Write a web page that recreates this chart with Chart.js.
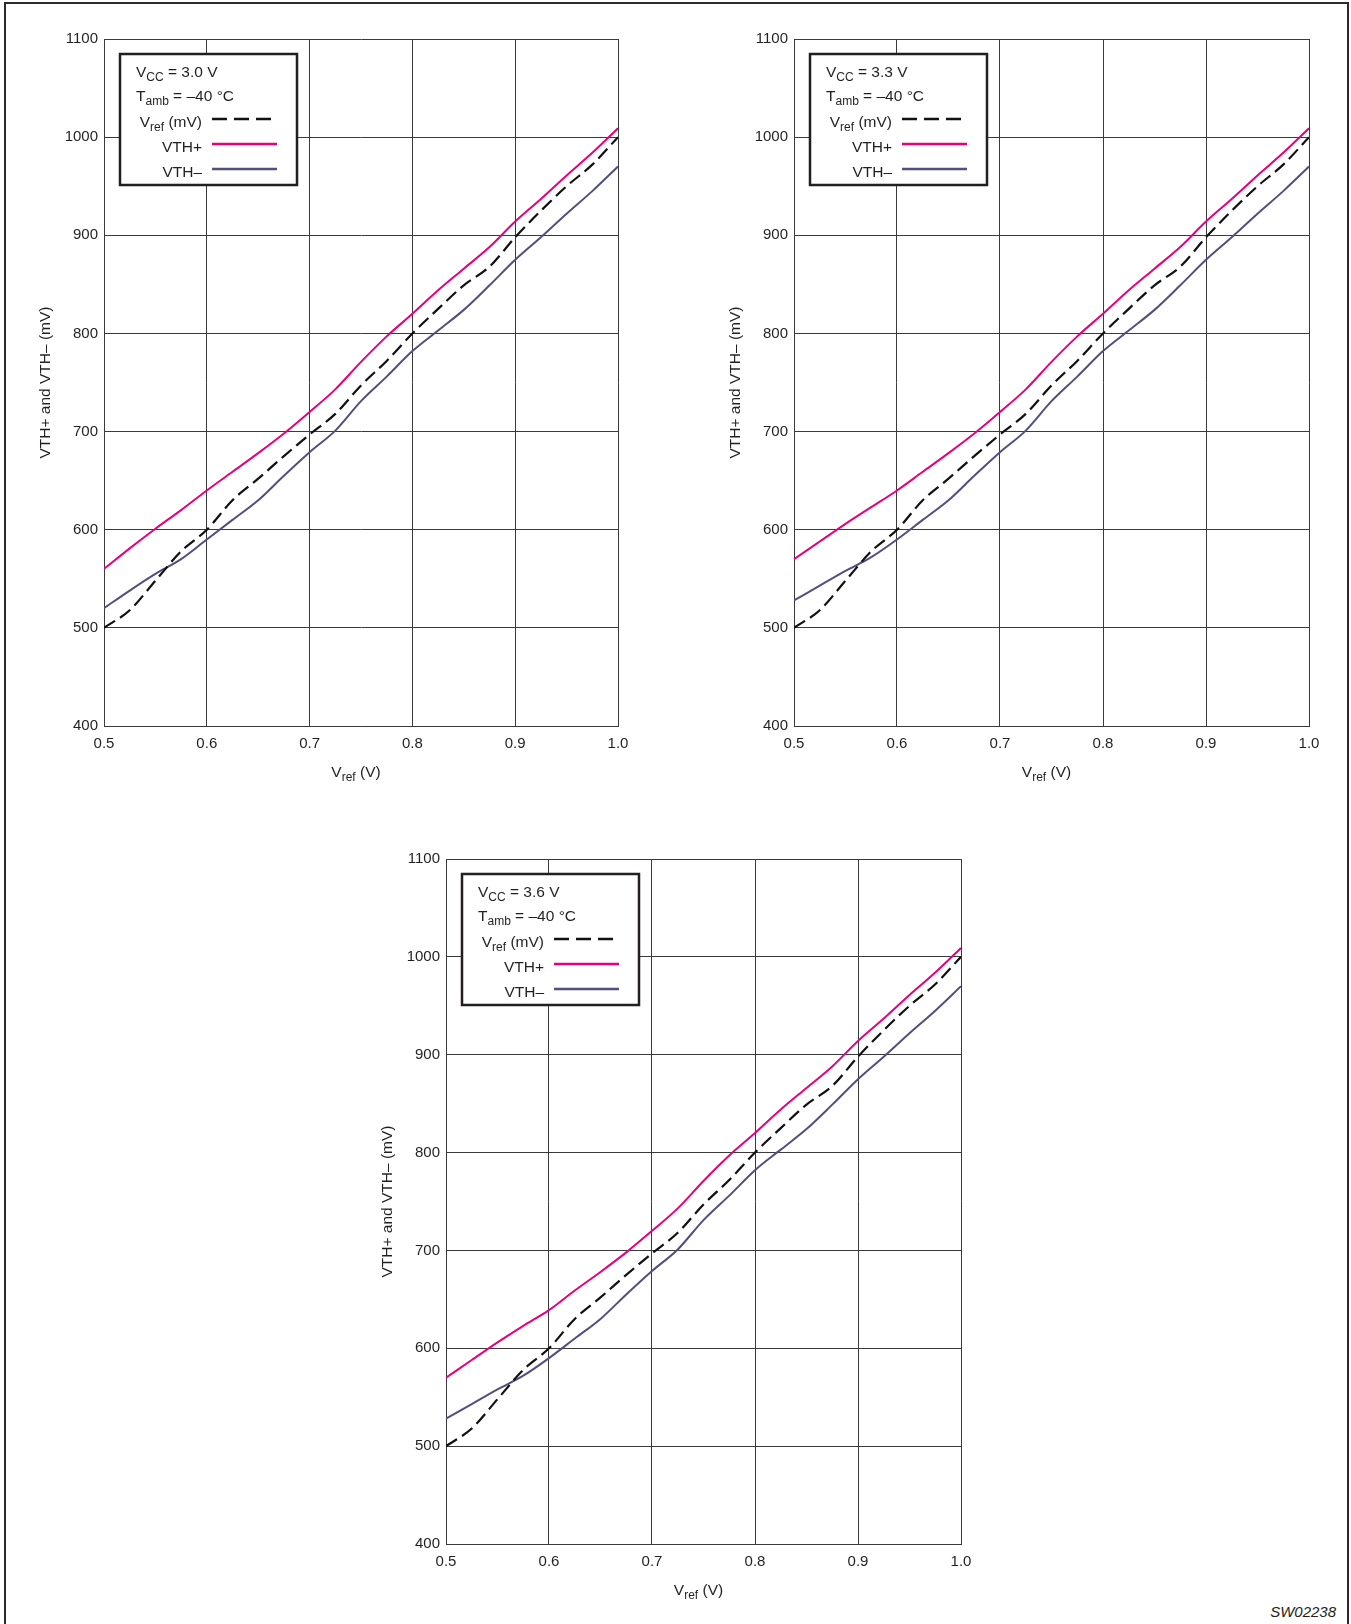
<!DOCTYPE html>
<html>
<head>
<meta charset="utf-8">
<title>VTH+ and VTH– vs Vref</title>
<script src="https://cdn.jsdelivr.net/npm/chart.js@4.4.1/dist/chart.umd.min.js"></script>
<style>
  html, body { margin: 0; padding: 0; background: #fff; }
  body { width: 1351px; height: 1624px; position: relative; overflow: hidden; font-family: 'Liberation Sans', Arial, sans-serif; }
  .frame { position: absolute; left: 4px; top: 2px; width: 1341px; height: 1700px; border: 2px solid #2a2a2a; }
  canvas { position: absolute; }
  .code { position: absolute; right: 15px; top: 1604px; font-style: italic; font-size: 15px; line-height: 1; color: #231f20; }
</style>
</head>
<body>
<div class="frame"></div>
<canvas id="c1" width="624" height="796" style="left:14px;top:0px"></canvas>
<canvas id="c2" width="625" height="796" style="left:704px;top:0px"></canvas>
<canvas id="c3" width="625" height="794" style="left:356px;top:820px"></canvas>
<div class="code">SW02238</div>
<script>
// x values (Vref in V) shared by every curve
const vrefV = [0.5, 0.525, 0.55, 0.575, 0.6, 0.625, 0.65, 0.675, 0.7, 0.725, 0.75,
               0.775, 0.8, 0.825, 0.85, 0.875, 0.9, 0.925, 0.95, 0.975, 1.0];

// dashed reference line, same in all three plots
const vrefMv = [500, 518, 548, 578, 600, 630, 652, 675, 697, 718, 747,
                772, 800, 825, 849, 868, 898, 925, 950, 972, 1000];

const vthPlus30 = [560, 581, 601, 620, 640, 659, 678, 698, 720, 743, 771,
                   797, 820, 844, 866, 888, 914, 937, 961, 984, 1009];
const vthMinus30 = [520, 538, 555, 570, 590, 610, 630, 655, 679, 701, 731,
                    756, 782, 803, 824, 849, 875, 898, 922, 945, 970];

const vthPlus33 = [570, 588, 606, 623, 640, 659, 678, 698, 720, 743, 771,
                   797, 820, 844, 866, 888, 914, 937, 961, 984, 1009];
const vthMinus33 = [528, 543, 558, 572, 590, 610, 630, 655, 679, 701, 731,
                    756, 782, 803, 824, 849, 875, 898, 922, 945, 970];

const vthPlus36 = [570, 588, 606, 623, 639, 659, 678, 698, 720, 743, 771,
                   797, 820, 844, 866, 888, 914, 937, 961, 984, 1009];
const vthMinus36 = [528, 543, 558, 572, 590, 610, 630, 655, 679, 701, 731,
                    756, 782, 803, 824, 849, 875, 898, 922, 945, 970];

const xTicks = [0.5, 0.6, 0.7, 0.8, 0.9, 1.0];
const yTicks = [400, 500, 600, 700, 800, 900, 1000, 1100];
const vccValues = ['3.0', '3.3', '3.6'];

const fam = "'Liberation Sans', Arial, sans-serif";
const ink = '#231f20';
const pink = '#e5007d';
const slate = '#524f7f';

// draw text made of [text, isSubscript] pieces
function drawParts(ctx, parts, x, y, align) {
  const big = '15.5px ' + fam, small = '12px ' + fam;
  let w = 0;
  parts.forEach(p => { ctx.font = p[1] ? small : big; w += ctx.measureText(p[0]).width; });
  let cx = align === 'right' ? x - w : align === 'center' ? x - w / 2 : x;
  ctx.textAlign = 'left';
  ctx.textBaseline = 'alphabetic';
  parts.forEach(p => {
    ctx.font = p[1] ? small : big;
    ctx.fillText(p[0], cx, p[1] ? y + 4 : y);
    cx += ctx.measureText(p[0]).width;
  });
}

const legendParts = [
  [['V', 0], ['ref', 1], [' (mV)', 0]],
  [['VTH+', 0]],
  [['VTH–', 0]]
];

const boxLegend = {
  id: 'boxLegend',
  afterDraw(chart, args, opts) {
    const ctx = chart.ctx, a = chart.chartArea;
    const L = a.left + 16, T = a.top + 15;
    ctx.save();
    ctx.fillStyle = '#fff';
    ctx.fillRect(L, T, 177, 131);
    ctx.strokeStyle = ink;
    ctx.lineWidth = 2.5;
    ctx.strokeRect(L, T, 177, 131);
    ctx.fillStyle = ink;
    drawParts(ctx, [['V', 0], ['CC', 1], [' = ' + opts.vcc + ' V', 0]], L + 16, T + 23, 'left');
    drawParts(ctx, [['T', 0], ['amb', 1], [' = –40 °C', 0]], L + 16, T + 47, 'left');
    chart.data.datasets.forEach((ds, i) => {
      const y = T + 65 + i * 25;
      ctx.fillStyle = ink;
      drawParts(ctx, legendParts[i], L + 82, y + 8, 'right');
      ctx.beginPath();
      ctx.setLineDash(ds.borderDash ? [15, 7] : []);
      ctx.strokeStyle = ds.borderColor;
      ctx.lineWidth = 2.5;
      ctx.moveTo(L + 92, y);
      ctx.lineTo(L + 157, y);
      ctx.stroke();
    });
    ctx.setLineDash([]);
    // x axis title with subscript
    ctx.fillStyle = ink;
    drawParts(ctx, [['V', 0], ['ref', 1], [' (V)', 0]], (a.left + a.right) / 2 - 5, a.bottom + 51, 'center');
    ctx.restore();
  }
};

function makeChart(id, vcc, plus, minus) {
  return new Chart(document.getElementById(id), {
    type: 'line',
    data: {
      labels: vrefV,
      datasets: [
        { label: 'Vref (mV)', data: vrefMv, borderColor: '#111', borderWidth: 2.2, borderDash: [13, 6] },
        { label: 'VTH+', data: plus, borderColor: pink, borderWidth: 2 },
        { label: 'VTH–', data: minus, borderColor: slate, borderWidth: 2 }
      ].map(d => Object.assign(d, { pointRadius: 0, cubicInterpolationMode: 'monotone', fill: false }))
    },
    options: {
      responsive: false,
      animation: false,
      devicePixelRatio: 1,
      layout: { padding: { top: 39, right: 20, bottom: 0, left: 0 } },
      plugins: {
        legend: { display: false },
        tooltip: { enabled: false },
        boxLegend: { vcc: vcc }
      },
      scales: {
        x: {
          type: 'linear', min: 0.5, max: 1.0,
          afterBuildTicks: s => { s.ticks = xTicks.map(v => ({ value: v })); },
          afterFit: s => { s.height = 70; s.paddingLeft = 0; s.paddingRight = 0; },
          grid: { color: '#3a3a3a', lineWidth: 1, drawTicks: false },
          border: { color: '#3a3a3a', width: 1 },
          ticks: { padding: 9, color: ink, font: { family: fam, size: 15 }, maxRotation: 0,
                   callback: v => v.toFixed(1) }
        },
        y: {
          min: 400, max: 1100,
          afterBuildTicks: s => { s.ticks = yTicks.map(v => ({ value: v })); },
          afterFit: s => { s.width = 90; s.paddingTop = 0; s.paddingBottom = 0; },
          grid: { color: '#3a3a3a', lineWidth: 1, drawTicks: false },
          border: { color: '#3a3a3a', width: 1 },
          ticks: { padding: 6, color: ink, font: { family: fam, size: 15 }, callback: v => String(v) },
          title: { display: true, text: 'VTH+ and VTH– (mV)', color: ink,
                   font: { family: fam, size: 15.5 }, padding: { top: 22, bottom: 0 } }
        }
      }
    },
    plugins: [boxLegend]
  });
}

makeChart('c1', vccValues[0], vthPlus30, vthMinus30);
makeChart('c2', vccValues[1], vthPlus33, vthMinus33);
makeChart('c3', vccValues[2], vthPlus36, vthMinus36);
</script>
</body>
</html>
